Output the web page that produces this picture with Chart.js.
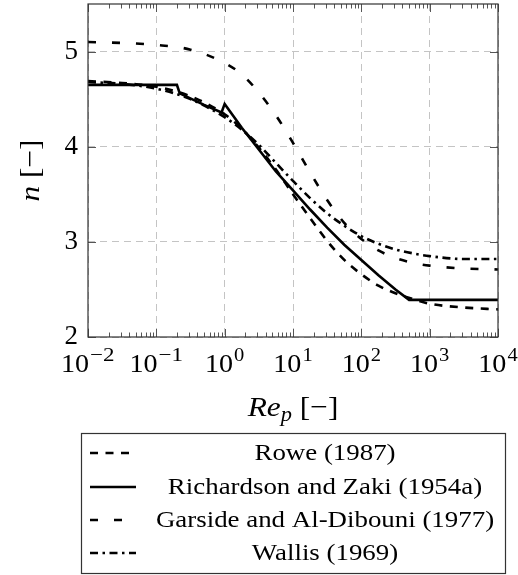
<!DOCTYPE html>
<html><head><meta charset="utf-8">
<script src="https://cdn.jsdelivr.net/npm/chart.js@4/dist/chart.umd.min.js"></script>
<style>html,body{margin:0;padding:0;background:#fff;}#wrap{width:518px;height:575px;}</style>
</head><body><div id="wrap"><canvas id="c" width="518" height="575"></canvas></div>
<script>
// ---- data ----
const reGrid   = [0.01, 0.0316, 0.1, 0.316, 1, 1.78, 3.16, 5.62, 10, 17.8, 31.6, 56.2, 100, 178, 316, 562, 1000, 3162, 10000];
const roweN    = [4.69, 4.67, 4.63, 4.53, 4.34, 4.19, 3.99, 3.76, 3.50, 3.25, 3.01, 2.81, 2.66, 2.54, 2.46, 2.40, 2.35, 2.31, 2.29];
const garsideN = [5.10, 5.09, 5.07, 5.02, 4.88, 4.76, 4.57, 4.33, 4.04, 3.73, 3.44, 3.20, 3.03, 2.91, 2.83, 2.78, 2.75, 2.72, 2.71];
const wallisN  = [4.68, 4.66, 4.61, 4.50, 4.31, 4.18, 4.02, 3.83, 3.64, 3.46, 3.30, 3.17, 3.06, 2.98, 2.92, 2.88, 2.85, 2.82, 2.82];
const rzRe     = [0.01, 0.2, 0.22, 0.5, 0.9, 1, 1.78, 3.16, 5.62, 10, 17.8, 31.6, 56.2, 100, 178, 316, 500, 10000];
const rzN      = [4.65, 4.65, 4.56, 4.44, 4.36, 4.45, 4.20, 3.97, 3.74, 3.54, 3.34, 3.15, 2.97, 2.81, 2.65, 2.50, 2.39, 2.39];
const seriesLabels = ['Rowe (1987)', 'Richardson and Zaki (1954a)', 'Garside and Al-Dibouni (1977)', 'Wallis (1969)'];
const xTickExps = [-2, -1, 0, 1, 2, 3, 4];
const yTicks = [2, 3, 4, 5];

const SERIF = '"Liberation Serif", "DejaVu Serif", serif';
const pts = (xs, ys) => xs.map((x, i) => ({x: x, y: ys[i]}));

const lineW = 2.6;
const datasets = [
  {label: seriesLabels[0], data: pts(reGrid, roweN), borderDash: [8, 7.5], cubicInterpolationMode: 'monotone'},
  {label: seriesLabels[1], data: pts(rzRe, rzN), borderDash: [], tension: 0},
  {label: seriesLabels[2], data: pts(reGrid, garsideN), borderDash: [8, 16], cubicInterpolationMode: 'monotone'},
  {label: seriesLabels[3], data: pts(reGrid, wallisN), borderDash: [8, 4.5, 2.5, 4.5], cubicInterpolationMode: 'monotone'}
].map(d => Object.assign({borderColor: '#000', backgroundColor: '#000', borderWidth: lineW, pointRadius: 0, fill: false, borderCapStyle: 'butt', borderJoinStyle: 'miter'}, d));

// draw text horizontally stretched by sx (to mimic the wider TeX glyphs); x is left edge
function textW(ctx, t, font, sx) { ctx.font = font; return ctx.measureText(t).width * sx; }
function fillH(ctx, t, x, y, font, sx) {
  ctx.save(); ctx.font = font; ctx.translate(x, y); ctx.scale(sx, 1); ctx.fillText(t, 0, 0); ctx.restore();
}

const decorPlugin = {
  id: 'decor',
  afterDraw(chart) {
    const ctx = chart.ctx, a = chart.chartArea;
    const xs = chart.scales.x, ys = chart.scales.y;
    ctx.save();
    // ticks
    ctx.strokeStyle = '#555';
    ctx.lineWidth = 1;
    ctx.beginPath();
    for (let k = -2; k < 4; k++) {
      for (let m = 2; m <= 9; m++) {
        const px = Math.round(xs.getPixelForValue(m * Math.pow(10, k))) + 0.5;
        ctx.moveTo(px, a.bottom); ctx.lineTo(px, a.bottom - 4.5);
        ctx.moveTo(px, a.top); ctx.lineTo(px, a.top + 4.5);
      }
    }
    xTickExps.forEach(e => {
      const px = Math.round(xs.getPixelForValue(Math.pow(10, e))) + 0.5;
      ctx.moveTo(px, a.bottom); ctx.lineTo(px, a.bottom - 8);
      ctx.moveTo(px, a.top); ctx.lineTo(px, a.top + 8);
    });
    yTicks.forEach(v => {
      const py = Math.round(ys.getPixelForValue(v)) + 0.5;
      ctx.moveTo(a.left, py); ctx.lineTo(a.left + 8, py);
      ctx.moveTo(a.right, py); ctx.lineTo(a.right - 8, py);
    });
    ctx.stroke();
    // frame
    ctx.strokeStyle = '#333';
    ctx.lineWidth = 1.2;
    ctx.strokeRect(a.left, a.top, a.right - a.left, a.bottom - a.top);

    // x tick labels 10^e
    ctx.fillStyle = '#000';
    ctx.textBaseline = 'alphabetic';
    ctx.textAlign = 'left';
    const sx = 1.08;
    const baseFont = '26px ' + SERIF, supFont = '19px ' + SERIF;
    xTickExps.forEach(e => {
      const px = xs.getPixelForValue(Math.pow(10, e));
      const bw = textW(ctx, '10', baseFont, sx);
      const es = e < 0 ? '\u2212' + (-e) : String(e);
      const sw = textW(ctx, es, supFont, sx) + (e < 0 ? 3 : 0);
      const x0 = px - (bw + sw + 1) / 2;
      fillH(ctx, '10', x0, 372, baseFont, sx);
      fillH(ctx, es, x0 + bw + 1, 361, supFont, sx * (e < 0 ? 1.12 : 1));
    });

    // x axis title: Re_p [−]
    {
      const s2 = 1.12;
      const f1 = 'italic 28px ' + SERIF, f2 = 'italic 20px ' + SERIF, f3 = '28px ' + SERIF;
      const w1 = textW(ctx, 'Re', f1, s2), w2 = textW(ctx, 'p', f2, s2), w3 = textW(ctx, ' [\u2212]', f3, s2);
      const cx = (a.left + a.right) / 2;
      let x = cx - (w1 + w2 + w3) / 2; const by = 416;
      fillH(ctx, 'Re', x, by, f1, s2); x += w1;
      fillH(ctx, 'p', x, by + 5, f2, s2); x += w2;
      fillH(ctx, ' [\u2212]', x, by, f3, s2);
    }
    // y axis title: n [−]
    {
      ctx.save();
      ctx.translate(39, (a.top + a.bottom) / 2);
      ctx.rotate(-Math.PI / 2);
      const s2 = 1.12;
      const f1 = 'italic 28px ' + SERIF, f3 = '28px ' + SERIF;
      const w1 = textW(ctx, 'n', f1, s2), w3 = textW(ctx, ' [\u2212]', f3, s2);
      let x = -(w1 + w3) / 2;
      fillH(ctx, 'n', x, 0, f1, s2); x += w1;
      fillH(ctx, ' [\u2212]', x, 0, f3, s2);
      ctx.restore();
    }

    // legend box
    const bx = 81, by0 = 433, bw = 424, bh = 140;
    ctx.fillStyle = '#fff';
    ctx.fillRect(bx, by0, bw, bh);
    ctx.strokeStyle = '#333'; ctx.lineWidth = 1.2;
    ctx.strokeRect(bx + 0.5, by0 + 0.5, bw, bh);
    const rowY = [453, 487, 520, 553];
    const lf = '24px ' + SERIF, ls = 1.12;
    chart.data.datasets.forEach((d, i) => {
      const y = rowY[i];
      ctx.save();
      ctx.strokeStyle = d.borderColor; ctx.lineWidth = d.borderWidth; ctx.lineCap = 'butt';
      ctx.setLineDash(d.borderDash || []);
      ctx.beginPath(); ctx.moveTo(90, y); ctx.lineTo(136, y); ctx.stroke();
      ctx.restore();
      ctx.fillStyle = '#000';
      ctx.textBaseline = 'middle';
      const tw = textW(ctx, d.label, lf, ls);
      fillH(ctx, d.label, 325 - tw / 2, y + 1, lf, ls);
      ctx.textBaseline = 'alphabetic';
    });
    ctx.restore();
  }
};

new Chart(document.getElementById('c'), {
  type: 'line',
  data: {datasets: datasets},
  options: {
    responsive: false,
    animation: false,
    events: [],
    layout: {padding: {left: 0, right: 20, top: 4, bottom: 0}},
    plugins: {legend: {display: false}, tooltip: {enabled: false}},
    scales: {
      x: {
        type: 'logarithmic', min: 0.01, max: 10000,
        afterBuildTicks: s => { s.ticks = xTickExps.map(e => ({value: Math.pow(10, e)})); },
        afterFit: s => { s.height = 238; s.paddingLeft = 0; s.paddingRight = 0; },
        ticks: {display: false},
        grid: {color: '#c4c4c4', lineWidth: 1, drawTicks: false},
        border: {display: false, dash: [7, 5]}
      },
      y: {
        type: 'linear', min: 2, max: 5.5,
        afterBuildTicks: s => { s.ticks = yTicks.map(v => ({value: v})); },
        afterFit: s => { s.width = 88; s.paddingTop = 0; s.paddingBottom = 0; },
        ticks: {color: '#000', font: {family: SERIF, size: 27}, padding: 10},
        grid: {color: '#c4c4c4', lineWidth: 1, drawTicks: false},
        border: {display: false, dash: [7, 5]}
      }
    }
  },
  plugins: [decorPlugin]
});
</script></body></html>
